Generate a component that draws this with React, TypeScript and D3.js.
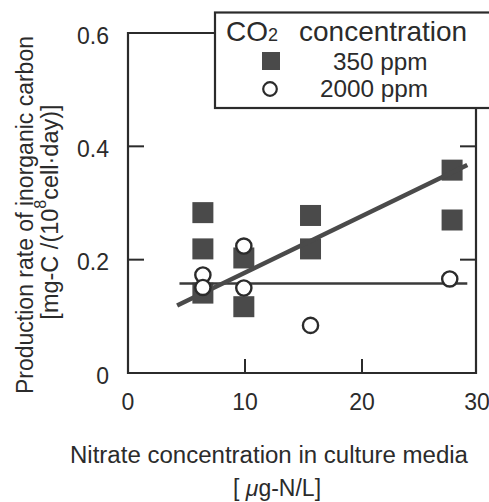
import React from "react";
import * as d3 from "d3";

const xTicks = [0, 10, 20, 30];
const yTicks = [0, 0.2, 0.4, 0.6];
const yTickLabels = ["0", "0.2", "0.4", "0.6"];

// 350 ppm (filled squares)
const x350 = [6.4, 6.4, 6.4, 9.9, 9.9, 15.6, 15.6, 27.7, 27.7];
const y350 = [0.283, 0.219, 0.141, 0.203, 0.117, 0.278, 0.219, 0.358, 0.27];
// 2000 ppm (open circles)
const x2000 = [6.4, 6.4, 9.9, 9.9, 15.6, 27.5];
const y2000 = [0.173, 0.151, 0.224, 0.15, 0.084, 0.166];

// fitted lines
const fit350X = [4.2, 29.0];
const fit350Y = [0.119, 0.367];
const fit2000X = [4.4, 29.0];
const fit2000Y = [0.158, 0.158];

const W = 489;
const H = 502;
const FONT = "'Liberation Sans', Arial, Helvetica, sans-serif";
const INK = "#2b2b2b";

export default function App() {
  const x = d3.scaleLinear().domain([0, 30]).range([128, 479]);
  const y = d3.scaleLinear().domain([0, 0.6]).range([373, 33]);

  const left = x(0);
  const right = 476;
  const top = y(0.6);
  const bottom = y(0);
  const legL = 215, legT = 12.5, legB = 108;

  const line = d3
    .line<[number, number]>()
    .x((d) => x(d[0]))
    .y((d) => y(d[1]));

  const fitA: [number, number][] = fit350X.map((v, i) => [v, fit350Y[i]]);
  const fitB: [number, number][] = fit2000X.map((v, i) => [v, fit2000Y[i]]);

  const sq = 21;
  const r = 7.6;

  return (
    <svg
      width={W}
      height={H}
      style={{ position: "absolute", left: 0, top: 0, background: "#fff" }}
      fontFamily={FONT}
    >
      <rect width={W} height={H} fill="#fff" />
      {/* frame */}
      <path
        d={`M${legL},${top} H${left} V${bottom} H${right} V${legB}`}
        fill="none"
        stroke={INK}
        strokeWidth={2.2}
      />
      {/* ticks */}
      {yTicks
        .filter((t) => t > 0 && t < 0.6)
        .map((t) => (
          <g key={"yt" + t} stroke={INK} strokeWidth={2}>
            <line x1={left} x2={left + 16} y1={y(t)} y2={y(t)} />
            <line x1={right - 16} x2={right} y1={y(t)} y2={y(t)} />
          </g>
        ))}
      {xTicks
        .filter((t) => t > 0 && t < 30)
        .map((t) => (
          <line
            key={"xt" + t}
            x1={x(t)}
            x2={x(t)}
            y1={bottom}
            y2={bottom - 14}
            stroke={INK}
            strokeWidth={2}
          />
        ))}
      {/* tick labels */}
      {yTicks.map((t, i) => (
        <text
          key={"yl" + t}
          x={109}
          y={y(t) + 10.5}
          textAnchor="end"
          fontSize={23}
          fill={INK}
        >
          {yTickLabels[i]}
        </text>
      ))}
      {xTicks.map((t) => (
        <text
          key={"xl" + t}
          x={x(t) - (t === 30 ? 2 : 0)}
          y={410}
          textAnchor="middle"
          fontSize={23}
          fill={INK}
        >
          {t}
        </text>
      ))}
      {/* squares */}
      {x350.map((v, i) => (
        <rect
          key={"s" + i}
          x={x(v) - sq / 2}
          y={y(y350[i]) - sq / 2}
          width={sq}
          height={sq}
          fill="#4a4a4a"
        />
      ))}
      {/* fit lines */}
      <path d={line(fitB) || ""} fill="none" stroke="#3a3a3a" strokeWidth={2.6} />
      <path d={line(fitA) || ""} fill="none" stroke="#4a4a4a" strokeWidth={4.5} />
      {/* circles */}
      {x2000.map((v, i) => (
        <circle
          key={"c" + i}
          cx={x(v)}
          cy={y(y2000[i])}
          r={r}
          fill="#fff"
          stroke={INK}
          strokeWidth={2.4}
        />
      ))}
      {/* legend */}
      <rect
        x={legL}
        y={legT}
        width={W - legL + 5}
        height={legB - legT}
        fill="#fff"
        stroke={INK}
        strokeWidth={2.2}
      />
      <text x={226} y={41} fontSize={28} fill={INK}>
        CO<tspan fontSize={18}>2</tspan>
      </text>
      <text x={299} y={41} fontSize={28} fill={INK}>
        concentration
      </text>
      <rect x={262} y={52} width={18} height={18} fill="#4a4a4a" />
      <text x={333} y={70} fontSize={24.3} fill={INK}>
        350 ppm
      </text>
      <circle cx={270} cy={89} r={6.8} fill="#fff" stroke={INK} strokeWidth={2.2} />
      <text x={320} y={97} fontSize={24.3} fill={INK}>
        2000 ppm
      </text>
      {/* x title */}
      <text
        x={269}
        y={463}
        textAnchor="middle"
        fontSize={23.5}
        fill={INK}
        textLength={398}
        lengthAdjust="spacingAndGlyphs"
      >
        Nitrate concentration in culture media
      </text>
      <text x={233} y={496} fontSize={23} fill={INK}>
        [ <tspan fontStyle="italic">μ</tspan>g-N/L]
      </text>
      {/* y title */}
      <text
        transform="translate(33,215) rotate(-90)"
        textAnchor="middle"
        fontSize={23}
        fill={INK}
      >
        Production rate of inorganic carbon
      </text>
      <text
        transform="translate(58,212) rotate(-90)"
        textAnchor="middle"
        fontSize={23.5}
        fill={INK}
      >
        [mg-C /(10
        <tspan fontSize={16} dy={-12}>8</tspan>
        <tspan dy={12}>cell·day)]</tspan>
      </text>
    </svg>
  );
}
